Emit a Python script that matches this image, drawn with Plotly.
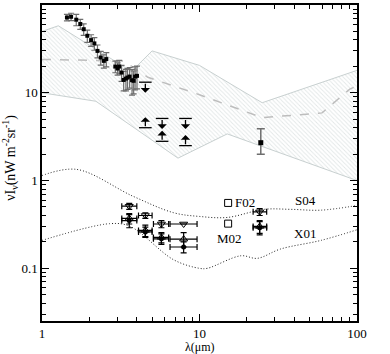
import numpy as np
import plotly.graph_objects as go

# --- data ---
# upper band (hatched), its top / bottom edge and dashed middle
band_top_lam = [1.0, 1.27, 3.7, 5.0, 10.0, 25.0, 100.0]
band_top_val = [50, 58, 17.5, 30, 20.5, 7.7, 18]
band_bot_lam = [1.0, 2.2, 7.3, 15.0, 100.0]
band_bot_val = [10, 8.0, 1.8, 3.4, 1.0]
mid_lam = [1.0, 3.3, 4.7, 10.0, 25.0, 60.0, 90.0, 100.0]
mid_val = [24, 23, 15, 9.5, 5.2, 5.9, 11, 12]

# near-IR measurements
nir_lam = [1.44, 1.53, 1.65, 1.75, 1.84, 1.94, 2.05, 2.15, 2.25, 2.36, 2.47, 2.56,
           2.92, 3.02, 3.09, 3.2, 3.3, 3.41, 3.49, 3.6, 3.73, 3.82, 3.9, 4.01]
nir_val = [72, 73.5, 68, 60.7, 53, 44.6, 39.8, 36.5, 30, 25.2, 23.1, 24.2,
           19.9, 18.9, 19.9, 17, 14, 14.5, 14.9, 15.3, 13.9, 13.7, 15.3, 15.6]
nir_err = [6, 7, 10, 8, 8, 7, 6, 6, 5, 4.5, 4, 4.5,
           3, 3, 3.5, 3.5, 3.5, 4, 4, 4, 4.5, 4, 4.5, 4.5]
mir_lam = [24.5]
mir_val = [2.7]
mir_plus = [1.2]
mir_minus = [0.7]

# limits
up_lim_lam = [4.53, 5.79, 8.15]
up_lim_val = [13.2, 5.1, 5.1]
lo_lim_lam = [4.53, 5.79, 8.15]
lo_lim_val = [4.0, 2.8, 2.5]

# galaxy counts points
gc_lam = [3.58, 4.53, 5.73, 7.93, 24.1]
gc_lo = [3.21, 4.1, 5.1, 6.5, 21.9]
gc_hi = [4.0, 5.0, 6.37, 9.65, 26.7]
tri_dn_val = [0.51, 0.40, 0.32, 0.32, 0.44]
tri_dn_err = [0.04, 0.03, 0.03, 0.0, 0.04]
tri_up_val = [0.37, 0.27, 0.225, 0.215, 0.30]
tri_up_err = [0.05, 0.04, 0.03, 0.04, 0.05]
dot_val = [0.35, 0.26, 0.217, 0.175, 0.29]
dot_err = [0.06, 0.035, 0.03, 0.025, 0.05]

sq_lam = [15.2, 15.2]
sq_val = [0.556, 0.323]
sq_names = ["F02", "M02"]

# model curves
s04_lam = [1.0, 1.66, 3.8, 6.85, 10.0, 15.0, 25.7, 38.0, 59.0, 100.0]
s04_val = [1.14, 1.34, 0.66, 0.43, 0.39, 0.38, 0.47, 0.47, 0.46, 0.52]
x01_lam = [1.0, 2.71, 3.63, 6.86, 10.0, 11.2, 18.3, 23.3, 32.7, 59.0, 100.0]
x01_val = [0.208, 0.323, 0.30, 0.125, 0.10, 0.10, 0.139, 0.13, 0.166, 0.208, 0.275]

SERIF = "Liberation Serif, DejaVu Serif, serif"

fig = go.Figure()

# hatched band
fig.add_trace(go.Scatter(x=band_bot_lam, y=band_bot_val, mode="lines",
                         line=dict(color="#c8d0d0", width=1), showlegend=False))
fig.add_trace(go.Scatter(x=band_top_lam, y=band_top_val, mode="lines",
                         line=dict(color="#c8d0d0", width=1), fill="tonexty",
                         fillcolor="rgba(255,255,255,0)",
                         fillpattern=dict(shape="\\", fgcolor="#c6cfcf", bgcolor="white",
                                          size=3, solidity=0.3),
                         showlegend=False))
fig.add_trace(go.Scatter(x=mid_lam, y=mid_val, mode="lines",
                         line=dict(color="#bdbdbd", width=1.5, dash="dash"), showlegend=False))

# dotted model curves
for lam, val in [(s04_lam, s04_val), (x01_lam, x01_val)]:
    fig.add_trace(go.Scatter(x=lam, y=val, mode="lines", line_shape="spline",
                             line=dict(color="#222222", width=1, dash="1px,2px"),
                             showlegend=False))

# near/mid IR measurements
fig.add_trace(go.Scatter(x=nir_lam, y=nir_val, mode="markers",
                         marker=dict(symbol="square", size=4, color="black"),
                         error_y=dict(type="data", array=nir_err, color="#6e6e6e",
                                      thickness=1.2, width=3),
                         showlegend=False))
fig.add_trace(go.Scatter(x=mir_lam, y=mir_val, mode="markers",
                         marker=dict(symbol="square", size=5, color="black"),
                         error_y=dict(type="data", array=mir_plus, arrayminus=mir_minus,
                                      color="#6e6e6e", thickness=1.5, width=4),
                         showlegend=False))

# limit bars
fig.add_trace(go.Scatter(x=up_lim_lam + lo_lim_lam, y=up_lim_val + lo_lim_val, mode="markers",
                         marker=dict(symbol="line-ew", size=9,
                                     line=dict(color="black", width=1.3)),
                         showlegend=False))

# galaxy counts
xplus = [h - l for h, l in zip(gc_hi, gc_lam)]
xminus = [l - lo for l, lo in zip(gc_lam, gc_lo)]
fig.add_trace(go.Scatter(x=gc_lam, y=tri_dn_val, mode="markers",
                         marker=dict(symbol="triangle-down-open", size=7, color="black",
                                     line=dict(width=1)),
                         error_x=dict(type="data", array=xplus, arrayminus=xminus,
                                      color="black", thickness=1.2, width=3),
                         error_y=dict(type="data", array=tri_dn_err, color="black",
                                      thickness=1.2, width=3),
                         showlegend=False))
fig.add_trace(go.Scatter(x=gc_lam, y=tri_up_val, mode="markers",
                         marker=dict(symbol="triangle-up-open", size=7, color="black",
                                     line=dict(width=1)),
                         error_x=dict(type="data", array=xplus, arrayminus=xminus,
                                      color="black", thickness=1.2, width=3),
                         error_y=dict(type="data", array=tri_up_err, color="black",
                                      thickness=1.2, width=3),
                         showlegend=False))
fig.add_trace(go.Scatter(x=gc_lam, y=dot_val, mode="markers",
                         marker=dict(symbol="circle", size=5, color="black"),
                         error_x=dict(type="data", array=xplus, arrayminus=xminus,
                                      color="black", thickness=1.2, width=3),
                         error_y=dict(type="data", array=dot_err, color="black",
                                      thickness=1.2, width=3),
                         showlegend=False))
fig.add_trace(go.Scatter(x=sq_lam, y=sq_val, mode="markers",
                         marker=dict(symbol="square-open", size=7, color="black",
                                     line=dict(width=1)),
                         showlegend=False))

# arrows for limits
arrow_len = 0.12
for lam, v in zip(up_lim_lam, up_lim_val):
    fig.add_annotation(x=np.log10(lam), y=np.log10(v) - arrow_len,
                       ax=np.log10(lam), ay=np.log10(v), axref="x", ayref="y",
                       showarrow=True, arrowhead=1, arrowsize=1.2, arrowwidth=1.3,
                       arrowcolor="black", text="")
for lam, v in zip(lo_lim_lam, lo_lim_val):
    fig.add_annotation(x=np.log10(lam), y=np.log10(v) + arrow_len,
                       ax=np.log10(lam), ay=np.log10(v), axref="x", ayref="y",
                       showarrow=True, arrowhead=1, arrowsize=1.2, arrowwidth=1.3,
                       arrowcolor="black", text="")

# labels
lab_font = dict(family=SERIF, size=13, color="black")
fig.add_annotation(x=np.log10(sq_lam[0]), y=np.log10(sq_val[0]), text=sq_names[0],
                   showarrow=False, xanchor="left", xshift=5, font=lab_font)
fig.add_annotation(x=np.log10(sq_lam[1]), y=np.log10(sq_val[1]), text=sq_names[1],
                   showarrow=False, xanchor="center", yanchor="top", yshift=-5, xshift=1,
                   font=lab_font)
fig.add_annotation(x=np.log10(47), y=np.log10(0.6), text="S04", showarrow=False, font=lab_font)
fig.add_annotation(x=np.log10(47), y=np.log10(0.25), text="X01", showarrow=False, font=lab_font)

# axis titles
fig.add_annotation(xref="paper", yref="paper", x=0.5, y=-0.082, text="λ(μm)",
                   showarrow=False, yanchor="middle", borderpad=0,
                   font=dict(family=SERIF, size=12, color="black"))
fig.add_annotation(xref="paper", yref="paper", x=-0.1, y=0.515, textangle=-90,
                   text="νI<sub>ν</sub>(nW m<sup>-2</sup>sr<sup>-1</sup>)",
                   showarrow=False, xanchor="center", font=dict(family=SERIF, size=14,
                                                                color="black"))

minor_x = [m * 10 ** d for d in range(0, 2) for m in range(2, 10)]
minor_y = [m * 10.0 ** d for d in range(-2, 2) for m in range(2, 10)]

axis_common = dict(type="log", showgrid=False, zeroline=False, showline=True,
                   linecolor="black", linewidth=1.5, mirror="allticks", automargin=False,
                   ticks="inside", ticklen=7, tickwidth=1.2, tickcolor="black",
                   tickfont=dict(family=SERIF, size=13, color="black"))

fig.update_xaxes(**axis_common, range=[0, 2], tickvals=[1, 10, 100], ticktext=["1", "10", "100"],
                 minor=dict(tickvals=minor_x, ticks="inside", ticklen=4, tickcolor="black",
                            showgrid=False))
fig.update_yaxes(**axis_common, range=[-1.6, 2], tickvals=[0.1, 1, 10, 100],
                 ticktext=["0.1", "1", "10", "100"],
                 minor=dict(tickvals=minor_y, ticks="inside", ticklen=4, tickcolor="black",
                            showgrid=False))

fig.update_layout(width=390, height=354, margin=dict(l=42, r=33, t=5, b=33),
                  plot_bgcolor="white", paper_bgcolor="white", showlegend=False)

# the page body has a default 8px margin; drop it so the figure fills the window
fig.write_html("out.html", config={"displayModeBar": False},
               post_script="document.body.style.margin='0';")
